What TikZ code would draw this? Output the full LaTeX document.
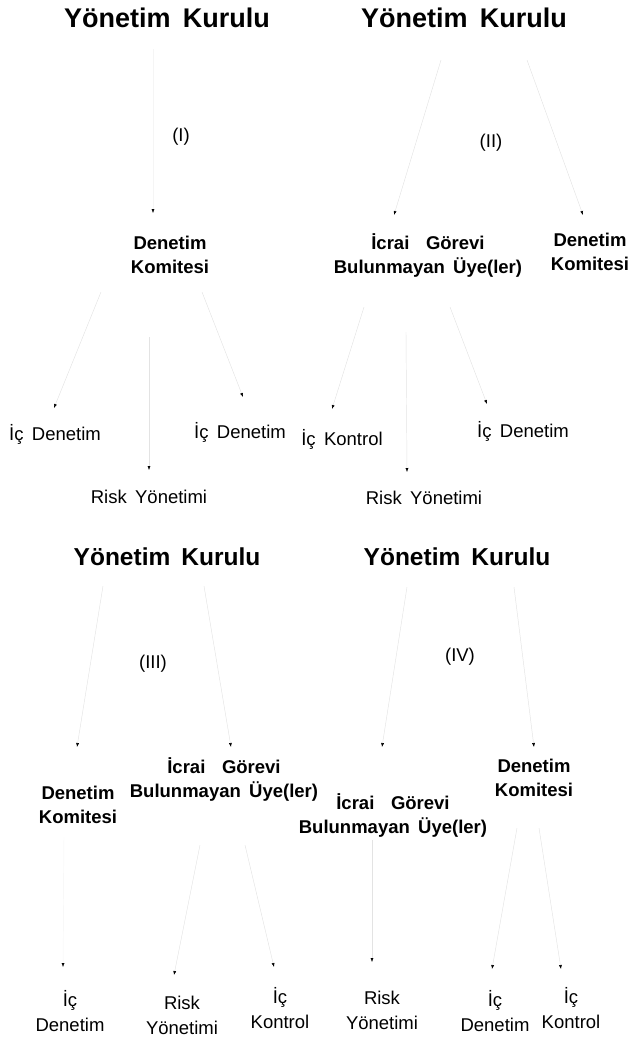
\documentclass[tikz,border=0pt]{standalone}
\usepackage{fontspec}
\setmainfont{Liberation Sans}
\usetikzlibrary{arrows.meta}
\newcommand\bosluk{\hspace{0.45em}}
\tikzset{
  baslik/.style={font=\fontsize{24.5}{28}\selectfont\bfseries, inner sep=0pt},
  ustbaslik/.style={baslik, font=\fontsize{27}{30}\selectfont\bfseries},
  birim/.style={font=\fontsize{18.5}{24}\selectfont\bfseries, align=center, inner sep=0pt},
  kutu/.style={font=\fontsize{18.5}{25}\selectfont, align=center, inner sep=0pt},
  link/.style={draw=black!11, line width=0.45pt, -{Latex[length=4pt,width=3pt,black]}},
  soluk/.style={link, draw=black!4},
}
\begin{document}
\begin{tikzpicture}[x=1pt, y=-1pt]
\useasboundingbox (0,0) rectangle (629,1039);
% (I)
\node[ustbaslik] (yk1) at (167,18) {Yönetim\bosluk Kurulu};
\node[kutu] (r1) at (181,137) {(I)};
\node[birim] (dk1) at (170,255) {Denetim\\Komitesi};
\node[kutu] (id1a) at (55,434) {İç\bosluk Denetim};
\node[kutu] (id1b) at (240,432) {İç\bosluk Denetim};
\node[kutu] (ry1) at (149,497) {Risk\bosluk Yönetimi};
\draw[soluk] ([shift={(-14,31)}]yk1.center) -- ([shift={(-17,-42)}]dk1.center);
\draw[link] ([shift={(-69,37)}]dk1.center) -- ([shift={(-1,-26)}]id1a.center);
\draw[link] ([shift={(32,37)}]dk1.center) -- ([shift={(3,-35)}]id1b.center);
\draw[link] ([shift={(-21,82)}]dk1.center) -- ([shift={(0,-27)}]ry1.center);
% (II)
\node[ustbaslik] (yk2) at (464,18) {Yönetim\bosluk Kurulu};
\node[kutu] (r2) at (491,143) {(II)};
\node[birim] (ig2) at (428,255) {İcrai\bosluk\bosluk Görevi\\Bulunmayan\bosluk Üye(ler)};
\node[birim] (dk2) at (590,252) {Denetim\\Komitesi};
\node[kutu] (ik2) at (342,439) {İç\bosluk Kontrol};
\node[kutu] (id2) at (523,431) {İç\bosluk Denetim};
\node[kutu] (ry2) at (424,498) {Risk\bosluk Yönetimi};
\draw[link] ([shift={(-23,42)}]yk2.center) -- ([shift={(-34,-40)}]ig2.center);
\draw[link] ([shift={(63,42)}]yk2.center) -- ([shift={(-7,-37)}]dk2.center);
\draw[link] ([shift={(-64,52)}]ig2.center) -- ([shift={(-10,-30)}]ik2.center);
\draw[link] ([shift={(-22,77)}]ig2.center) -- ([shift={(-17,-26)}]ry2.center);
\draw[link] ([shift={(22,52)}]ig2.center) -- ([shift={(-36,-27)}]id2.center);
% (III)
\node[baslik] (yk3) at (167,557) {Yönetim\bosluk Kurulu};
\node[kutu] (r3) at (153,664) {(III)};
\node[birim] (dk3) at (78,805) {Denetim\\Komitesi};
\node[birim] (ig3) at (224,779) {İcrai\bosluk\bosluk Görevi\\Bulunmayan\bosluk Üye(ler)};
\node[kutu] (id3) at (70,1011) {İç\\Denetim};
\node[kutu] (ry3) at (182,1015) {Risk\\Yönetimi};
\node[kutu] (ik3) at (280,1008) {İç\\Kontrol};
\draw[link] ([shift={(-64,29)}]yk3.center) -- ([shift={(-1,-58)}]dk3.center);
\draw[link] ([shift={(37,29)}]yk3.center) -- ([shift={(7,-32)}]ig3.center);
\draw[soluk] ([shift={(-14,32)}]dk3.center) -- ([shift={(-7,-44)}]id3.center);
\draw[link] ([shift={(-24,66)}]ig3.center) -- ([shift={(-8,-40)}]ry3.center);
\draw[link] ([shift={(21,66)}]ig3.center) -- ([shift={(-6,-41)}]ik3.center);
% (IV)
\node[baslik] (yk4) at (457,557) {Yönetim\bosluk Kurulu};
\node[kutu] (r4) at (460,657) {(IV)};
\node[birim] (ig4) at (393,815) {İcrai\bosluk\bosluk Görevi\\Bulunmayan\bosluk Üye(ler)};
\node[birim] (dk4) at (534,778) {Denetim\\Komitesi};
\node[kutu] (ry4) at (382,1010) {Risk\\Yönetimi};
\node[kutu] (id4) at (495,1011) {İç\\Denetim};
\node[kutu] (ik4) at (571,1008) {İç\\Kontrol};
\draw[link] ([shift={(-50,30)}]yk4.center) -- ([shift={(-11,-68)}]ig4.center);
\draw[link] ([shift={(57,30)}]yk4.center) -- ([shift={(0,-31)}]dk4.center);
\draw[link] ([shift={(-21,25)}]ig4.center) -- ([shift={(-10,-48)}]ry4.center);
\draw[link] ([shift={(-17,50)}]dk4.center) -- ([shift={(-3,-42)}]id4.center);
\draw[link] ([shift={(5,50)}]dk4.center) -- ([shift={(-10,-39)}]ik4.center);
\end{tikzpicture}
\end{document}
